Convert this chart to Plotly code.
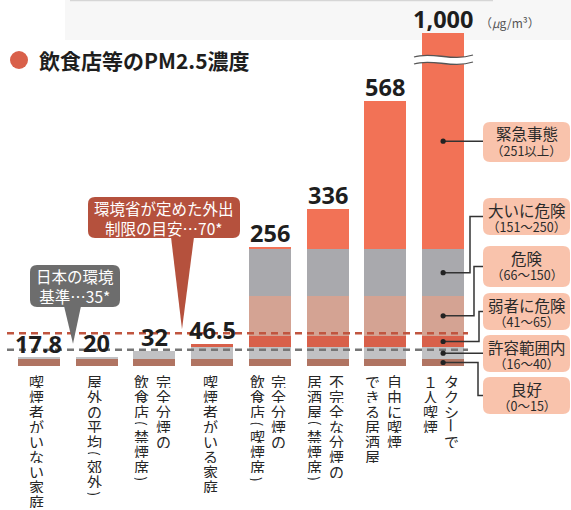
import plotly.graph_objects as go

W, H = 571, 510

# ---------------- data ----------------
categories = [
    "喫煙者がいない家庭",
    "屋外の平均(郊外)",
    "完全分煙の\n飲食店(禁煙席)",
    "喫煙者がいる家庭",
    "完全分煙の\n飲食店(喫煙席)",
    "不完全な分煙の\n居酒屋(禁煙席)",
    "自由に喫煙\nできる居酒屋",
    "タクシーで\n１人喫煙",
]
values = [17.8, 20, 32, 46.5, 256, 336, 568, 1000]
value_labels = ["17.8", "20", "32", "46.5", "256", "336", "568", "1,000"]

band_names = ["良好", "許容範囲内", "弱者に危険", "危険", "大いに危険", "緊急事態"]
band_ranges = ["（0〜15）", "（16〜40）", "（41〜65）", "（66〜150）", "（151〜250）", "（251以上）"]
band_lower = [0, 15, 40, 65, 150, 250]
band_upper = [15, 40, 65, 150, 250, 100000]
band_colors = ["#b07462", "#c1c1c3", "#d8604a", "#d4a393", "#a9a9ad", "#f27256"]

env_standard = 35      # 日本の環境基準
outing_limit = 70      # 環境省が定めた外出制限の目安
unit_label = "（<i>μ</i>g/m³）"
title_text = "飲食店等のPM2.5濃度"

Y_MAX = 714  # axis is cut here (1,000 bar is broken)

# ---------------- layout geometry (pixels) ----------------
PLOT_L, PLOT_R, PLOT_T, PLOT_B = 10, 472, 33, 366
FONT_JP = "Noto Sans CJK JP, Noto Sans, sans-serif"


def px(x):
    return x / W


def py(y):
    return 1 - y / H


def vy(v):
    """data value -> pixel y (same linear mapping as the y axis)"""
    return PLOT_B - (min(v, Y_MAX) / Y_MAX) * (PLOT_B - PLOT_T)


def cx(i):
    """category index -> pixel x of the bar centre"""
    n = len(categories)
    return PLOT_L + (i + 0.5) / n * (PLOT_R - PLOT_L)


def P(x, y):
    return f"{px(x):.5f},{py(y):.5f}"


def rrect(x0, y0, x1, y1, r):
    return (f"M {P(x0 + r, y0)} L {P(x1 - r, y0)} Q {P(x1, y0)} {P(x1, y0 + r)} "
            f"L {P(x1, y1 - r)} Q {P(x1, y1)} {P(x1 - r, y1)} L {P(x0 + r, y1)} "
            f"Q {P(x0, y1)} {P(x0, y1 - r)} L {P(x0, y0 + r)} Q {P(x0, y0)} {P(x0 + r, y0)} Z")


fig = go.Figure()

# ---------------- stacked bars by band ----------------
for k in range(len(band_names)):
    seg = [max(0.0, min(v, band_upper[k]) - band_lower[k]) for v in values]
    fig.add_trace(go.Bar(
        x=categories, y=seg, name=band_names[k],
        marker=dict(color=band_colors[k], line=dict(width=0)),
        width=0.73, hoverinfo="skip", showlegend=False,
    ))

shapes = []
annotations = []

# faint band at the very top
shapes.append(dict(type="rect", xref="paper", yref="paper", x0=px(65), x1=px(571),
                   y0=py(40), y1=py(0), fillcolor="#f7f7f7", line=dict(width=0), layer="below"))
shapes.append(dict(type="line", xref="paper", yref="paper", x0=px(70), x1=px(493),
                   y0=py(0.5), y1=py(0.5), line=dict(color="#d6d6d6", width=1.5), layer="below"))

# title
shapes.append(dict(type="circle", xref="paper", yref="paper", x0=px(10), x1=px(28),
                   y0=py(69), y1=py(51), fillcolor="#d9604a", line=dict(width=0)))
annotations.append(dict(xref="paper", yref="paper", x=px(37), y=py(60), xanchor="left",
                        yanchor="middle", text=title_text, showarrow=False,
                        font=dict(family=FONT_JP, size=21, color="#1e1e1e", weight="bold")))

# reference dashed lines
shapes.append(dict(type="line", xref="paper", yref="y", x0=px(7), x1=px(468),
                   y0=outing_limit, y1=outing_limit,
                   line=dict(color="#c0553f", width=2.5, dash="7px,5px")))
shapes.append(dict(type="line", xref="paper", yref="y", x0=px(7), x1=px(468),
                   y0=env_standard, y1=env_standard,
                   line=dict(color="#767676", width=2.5, dash="7px,5px")))

# axis break on the tallest bar
brk = f"M {P(414, 57)} C {P(432, 51)} {P(452, 62)} {P(473, 55)} L {P(473, 62)} C {P(452, 69)} {P(432, 58)} {P(414, 64)} Z"
shapes.append(dict(type="path", xref="paper", yref="paper", path=brk,
                   fillcolor="white", line=dict(width=0)))
for off in (0, 7):
    shapes.append(dict(type="path", xref="paper", yref="paper",
                       path=f"M {P(414, 57 + off)} C {P(432, 51 + off)} {P(452, 62 + off)} {P(473, 55 + off)}",
                       line=dict(color="#555555", width=1.3)))

# value labels
for c, v, lab in zip(categories, values, value_labels):
    annotations.append(dict(x=c, y=min(v, Y_MAX), xref="x", yref="y", text=lab,
                            showarrow=False, xanchor="center", yanchor="bottom", yshift=-4,
                            font=dict(family="Noto Sans, sans-serif", size=23.5,
                                      color="#1e1e1e", weight="bold")))
annotations.append(dict(xref="paper", yref="paper", x=px(478), y=py(23), xanchor="left",
                        yanchor="middle", text=unit_label, showarrow=False,
                        font=dict(family=FONT_JP, size=12, color="#555555")))

# vertical category labels (top-to-bottom, columns right-to-left)
ROTATE = {"(", ")", "ー"}
for i, lab in enumerate(categories):
    cols = lab.split("\n")
    n = len(cols)
    for j, col in enumerate(cols):
        xs = -2 + ((n - 1) / 2 - j) * 21.5
        ytop = 373
        for ch in col:
            adv = 10.5 if ch in "()" else 15
            annotations.append(dict(
                x=categories[i], xref="x", xshift=xs,
                yref="paper", y=py(ytop + adv / 2), text=ch, showarrow=False,
                xanchor="center", yanchor="middle", height=14,
                textangle=90 if ch in ROTATE else 0,
                font=dict(family=FONT_JP, size=15, color="#262626")))
            ytop += adv

# callouts
gray_c = "#6d6d6d"
shapes.append(dict(type="path", xref="paper", yref="paper",
                   path=rrect(30, 265, 120, 307, 7), fillcolor=gray_c, line=dict(width=0)))
shapes.append(dict(type="path", xref="paper", yref="paper",
                   path=f"M {P(64, 306)} L {P(81, 306)} L {P(73, vy(env_standard) - 6)} Z",
                   fillcolor=gray_c, line=dict(width=0)))
annotations.append(dict(xref="paper", yref="paper", x=px(75), y=py(286), text="日本の環境<br>基準…35*",
                        showarrow=False, xanchor="center", yanchor="middle",
                        font=dict(family=FONT_JP, size=15.5, color="white")))

red_c = "#b5513d"
shapes.append(dict(type="path", xref="paper", yref="paper",
                   path=rrect(88, 197, 240, 238, 7), fillcolor=red_c, line=dict(width=0)))
shapes.append(dict(type="path", xref="paper", yref="paper",
                   path=f"M {P(171, 237)} L {P(194, 237)} L {P(182, vy(outing_limit) - 4)} Z",
                   fillcolor=red_c, line=dict(width=0)))
annotations.append(dict(xref="paper", yref="paper", x=px(164), y=py(218),
                        text="環境省が定めた外出<br>制限の目安…70*",
                        showarrow=False, xanchor="center", yanchor="middle",
                        font=dict(family=FONT_JP, size=15.5, color="white")))

# band legend boxes with connectors
box_top = [377, 335, 293, 246, 198, 122]
box_bot = [414, 372, 330, 287, 235, 162]
elbow_x = [478, None, 479, 474, 470, None]
BOX_L, BOX_R = 483, 570
dot_x = cx(len(categories) - 1)
for k in range(len(band_names)):
    shapes.append(dict(type="path", xref="paper", yref="paper",
                       path=rrect(BOX_L, box_top[k], BOX_R, box_bot[k], 7),
                       fillcolor="#f9c3ac", line=dict(width=0)))
    annotations.append(dict(xref="paper", yref="paper", x=px((BOX_L + BOX_R) / 2),
                            y=py(box_top[k] + 11.5), text=band_names[k], showarrow=False,
                            xanchor="center", yanchor="middle",
                            font=dict(family=FONT_JP, size=15.5, color="#2a2a2a")))
    annotations.append(dict(xref="paper", yref="paper", x=px((BOX_L + BOX_R) / 2),
                            y=py(box_top[k] + 28.5), text=band_ranges[k], showarrow=False,
                            xanchor="center", yanchor="middle",
                            font=dict(family=FONT_JP, size=12.5, color="#2a2a2a")))
    mid = (band_lower[k] + min(band_upper[k], Y_MAX)) / 2
    dy = vy(mid)
    bm = (box_top[k] + box_bot[k]) / 2
    if elbow_x[k] is None:
        path = f"M {P(dot_x, dy)} L {P(BOX_L, dy)}"
    else:
        ex = elbow_x[k]
        path = f"M {P(dot_x, dy)} L {P(ex, dy)} L {P(ex, bm)} L {P(BOX_L, bm)}"
    shapes.append(dict(type="path", xref="paper", yref="paper", path=path,
                       line=dict(color="#333333", width=1.5)))
    shapes.append(dict(type="circle", xref="paper", yref="paper",
                       x0=px(dot_x - 2.6), x1=px(dot_x + 2.6), y0=py(dy + 2.6), y1=py(dy - 2.6),
                       fillcolor="#222222", line=dict(width=0)))

fig.update_layout(
    width=W, height=H, margin=dict(l=0, r=0, t=0, b=0),
    paper_bgcolor="white", plot_bgcolor="rgba(0,0,0,0)",
    barmode="stack", bargap=0.27, showlegend=False,
    xaxis=dict(domain=[px(PLOT_L), px(PLOT_R)], range=[-0.5, len(categories) - 0.5],
               showticklabels=False, showgrid=False, zeroline=False, showline=False,
               fixedrange=True),
    yaxis=dict(domain=[py(PLOT_B), py(PLOT_T)], range=[0, Y_MAX],
               showticklabels=False, showgrid=False, zeroline=False, showline=False,
               fixedrange=True),
    shapes=shapes, annotations=annotations,
)

fig.write_html(
    "out.html",
    config={"displayModeBar": False},
    post_script="document.body.style.margin='0';document.body.style.padding='0';"
                "document.documentElement.style.overflow='hidden';",
)
